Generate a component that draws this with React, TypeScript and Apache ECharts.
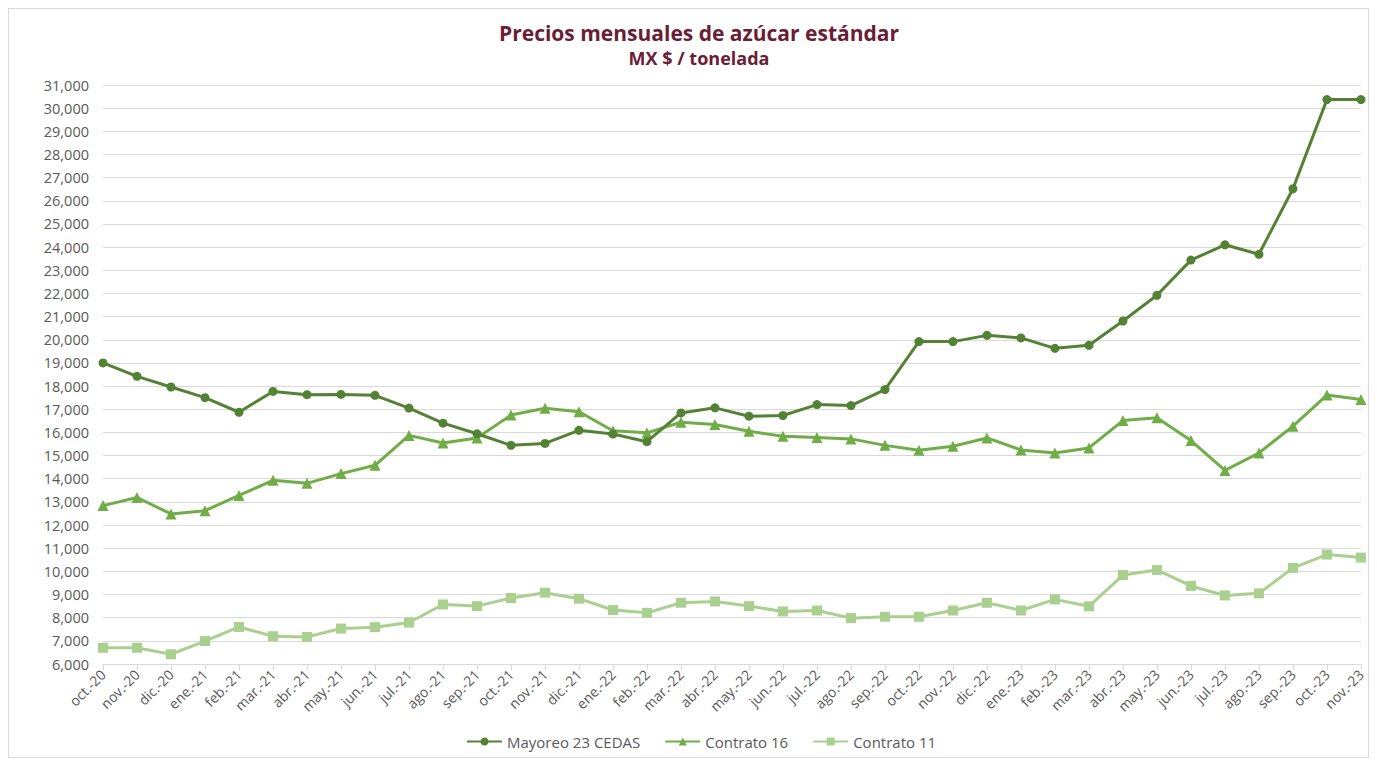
import React, { useEffect, useRef } from "react";
import * as echarts from "echarts";

const categories = [
  "oct.-20", "nov.-20", "dic.-20",
  "ene.-21", "feb.-21", "mar.-21", "abr.-21", "may.-21", "jun.-21", "jul.-21", "ago.-21", "sep.-21", "oct.-21", "nov.-21", "dic.-21",
  "ene.-22", "feb.-22", "mar.-22", "abr.-22", "may.-22", "jun.-22", "jul.-22", "ago.-22", "sep.-22", "oct.-22", "nov.-22", "dic.-22",
  "ene.-23", "feb.-23", "mar.-23", "abr.-23", "may.-23", "jun.-23", "jul.-23", "ago.-23", "sep.-23", "oct.-23", "nov.-23",
];

const mayoreo = [
  19000, 18420, 17960,
  17500, 16870, 17770, 17630, 17640, 17600, 17050, 16400, 15940, 15440, 15525, 16090,
  15930, 15600, 16840, 17060, 16700, 16730, 17200, 17160, 17850, 19920, 19920, 20190,
  20080, 19630, 19760, 20810, 21920, 23440, 24100, 23690, 26520, 30370, 30370,
];

const contrato16 = [
  12840, 13190, 12480,
  12620, 13280, 13930, 13800, 14220, 14580, 15870, 15540, 15760, 16750, 17040, 16890,
  16070, 15980, 16440, 16340, 16050, 15830, 15780, 15720, 15440, 15230, 15400, 15760,
  15240, 15110, 15330, 16510, 16630, 15650, 14360, 15110, 16270, 17610, 17420,
];

const contrato11 = [
  6700, 6700, 6420,
  6990, 7600, 7200, 7170, 7530, 7590, 7790, 8570, 8500, 8850, 9080, 8820,
  8330, 8210, 8645, 8700, 8500, 8270, 8310, 7980, 8040, 8040, 8310, 8645,
  8310, 8790, 8490, 9840, 10060, 9370, 8960, 9050, 10150, 10725, 10595,
];

const seriesNames = ["Mayoreo 23 CEDAS", "Contrato 16", "Contrato 11"];
const titleText = "Precios mensuales de azúcar estándar";
const subtitleText = "MX $ / tonelada";

const FONT = "'Open Sans', 'Noto Sans', sans-serif";

export default function App() {
  const ref = useRef<HTMLDivElement>(null);

  useEffect(() => {
    if (!ref.current) return;
    const chart = echarts.init(ref.current, null, { renderer: "svg" });
    const option: any = {
      animation: false,
      backgroundColor: "#ffffff",
      title: {
        text: titleText,
        subtext: subtitleText,
        left: 685,
        top: 8,
        textAlign: "center",
        itemGap: 6,
        textStyle: {
          color: "#6b1d35",
          fontSize: 21,
          fontWeight: "bold",
          fontFamily: FONT,
        },
        subtextStyle: {
          color: "#6b1d35",
          fontSize: 18,
          fontWeight: "bold",
          fontFamily: FONT,
        },
      },
      legend: {
        bottom: 3,
        left: 452,
        itemWidth: 35,
        itemHeight: 10,
        itemGap: 24,
        textStyle: { color: "#595959", fontSize: 15, fontFamily: FONT },
        data: seriesNames,
      },
      grid: { left: 94, right: 5, top: 76, bottom: 93, containLabel: false },
      xAxis: {
        type: "category",
        data: categories,
        boundaryGap: false,
        axisLine: { lineStyle: { color: "#d9d9d9", width: 1 } },
        axisTick: { show: true, length: 6, lineStyle: { color: "#d9d9d9" } },
        axisLabel: {
          rotate: 45,
          interval: 0,
          color: "#595959",
          fontSize: 14,
          fontFamily: FONT,
          margin: 8,
        },
        splitLine: { show: false },
      },
      yAxis: {
        type: "value",
        min: 6000,
        max: 31000,
        interval: 1000,
        axisLine: { show: false },
        axisTick: { show: false },
        axisLabel: {
          color: "#595959",
          fontSize: 14.5,
          fontFamily: FONT,
          margin: 14,
          formatter: (v: number) => v.toLocaleString("en-US"),
        },
        splitLine: { lineStyle: { color: "#d9d9d9", width: 1 } },
      },
      series: [
        {
          name: seriesNames[0],
          type: "line",
          data: mayoreo,
          symbol: "circle",
          symbolSize: 9,
          lineStyle: { color: "#548235", width: 3 },
          itemStyle: { color: "#548235" },
          z: 3,
        },
        {
          name: seriesNames[1],
          type: "line",
          data: contrato16,
          symbol: "triangle",
          symbolSize: 11,
          lineStyle: { color: "#70ad47", width: 3 },
          itemStyle: { color: "#70ad47" },
          z: 2,
        },
        {
          name: seriesNames[2],
          type: "line",
          data: contrato11,
          symbol: "rect",
          symbolSize: 10,
          lineStyle: { color: "#a9d08e", width: 3 },
          itemStyle: { color: "#a9d08e" },
          z: 1,
        },
      ],
    };
    chart.setOption(option);
    return () => chart.dispose();
  }, []);

  return (
    <div
      style={{
        width: 1361,
        height: 750,
        boxSizing: "border-box",
        border: "1px solid #d9d9d9",
        position: "relative",
      }}
    >
      <div ref={ref} style={{ position: "absolute", left: 0, top: 0, width: 1359, height: 748 }} />
    </div>
  );
}
